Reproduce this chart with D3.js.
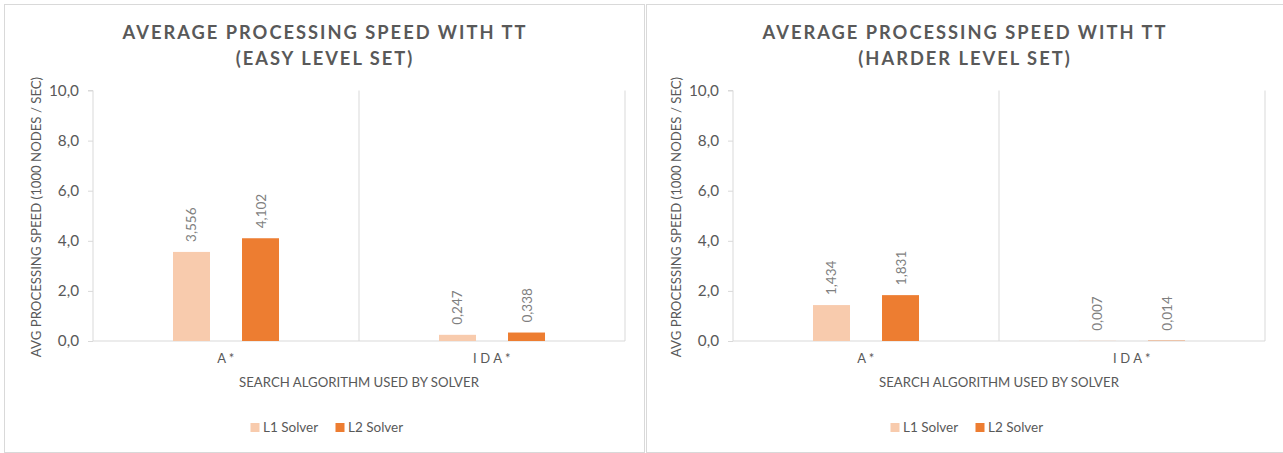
<!DOCTYPE html>
<html><head><meta charset="utf-8">
<script src="https://cdn.jsdelivr.net/npm/d3@7"></script>
<style>body{margin:0;background:#fff} svg{display:block} text{font-family:Lato,"Open Sans",sans-serif}</style>
</head><body><svg id="c" width="1283" height="453"></svg>
<script>
// ---- data ----
const categories = ["A*", "IDA*"];
const seriesNames = ["L1 Solver", "L2 Solver"];
const easyL1 = [3.556, 0.247];
const easyL2 = [4.102, 0.338];
const hardL1 = [1.434, 0.007];
const hardL2 = [1.831, 0.014];
const yTicks = [0, 2, 4, 6, 8, 10];
const titleLine1 = ["AVERAGE PROCESSING SPEED WITH TT", "AVERAGE PROCESSING SPEED WITH TT"];
const titleLine2 = ["(EASY LEVEL SET)", "(HARDER LEVEL SET)"];
const yTitle = "AVG PROCESSING SPEED (1000 NODES / SEC)";
const xTitle = "SEARCH ALGORITHM USED BY SOLVER";

// ---- styles / layout ----
const colors = ["#f8cbad", "#ed7d31"];
const panels = [
  {ox: 0, fx: 4.5, fw: 640, series: [easyL1, easyL2]},
  {ox: 640, fx: 646.5, fw: 642, series: [hardL1, hardL2]}
];
const svg = d3.select("#c");
const fmt1 = v => d3.format(".1f")(v).replace(".", ",");
const fmt3 = v => d3.format(".3f")(v).replace(".", ",");

panels.forEach((p, pi) => {
  const g = svg.append("g").attr("transform", `translate(${p.ox},0)`);
  svg.append("rect").attr("x", p.fx).attr("y", 4.5).attr("width", p.fw).attr("height", 448)
    .attr("fill", "none").attr("stroke", "#d9d9d9").attr("stroke-width", 1);

  const left = 93, right = 625, top = 90.5, bottom = 341;
  const x0 = d3.scaleBand().domain(categories).range([left, right]).padding(0);
  const x1 = d3.scaleBand().domain(seriesNames).range([0, x0.bandwidth()])
    .paddingInner(0.464).paddingOuter(1.159);
  const y = d3.scaleLinear().domain([0, 10]).range([bottom, top]);

  const cx = 325;
  const t = g.append("text").attr("x", cx).attr("text-anchor", "middle")
    .attr("fill", "#595959").attr("font-weight", "bold").attr("font-size", 18.3)
    .attr("letter-spacing", "2px");
  t.append("tspan").attr("x", cx).attr("y", 39).text(titleLine1[pi]);
  t.append("tspan").attr("x", cx).attr("y", 65).text(titleLine2[pi]);

  g.append("g").selectAll("line").data(categories).join("line")
    .attr("x1", d => x0(d) + x0.bandwidth()).attr("x2", d => x0(d) + x0.bandwidth())
    .attr("y1", top).attr("y2", bottom).attr("stroke", "#d9d9d9");

  const ya = g.append("g").attr("transform", `translate(${left},0)`)
    .call(d3.axisLeft(y).tickValues(yTicks).tickFormat(fmt1).tickSize(5).tickPadding(9));
  ya.select(".domain").attr("stroke", "#d9d9d9").attr("d", `M-5,${top}H0V${bottom}`);
  ya.selectAll(".tick line").attr("stroke", "#d9d9d9");
  ya.selectAll(".tick text").attr("fill", "#595959").attr("font-size", 15.3)
    .attr("font-family", "Lato, sans-serif");

  g.append("line").attr("x1", left).attr("x2", right).attr("y1", bottom).attr("y2", bottom)
    .attr("stroke", "#d9d9d9");

  seriesNames.forEach((s, si) => {
    const vals = p.series[si];
    g.append("g").selectAll("rect").data(categories).join("rect")
      .attr("x", (d, i) => x0(d) + x1(s))
      .attr("y", (d, i) => y(vals[i]))
      .attr("width", x1.bandwidth())
      .attr("height", (d, i) => y(0) - y(vals[i]))
      .attr("fill", colors[si]);
    g.append("g").selectAll("text").data(categories).join("text")
      .attr("transform", (d, i) => `translate(${x0(d) + x1(s) + x1.bandwidth() / 2 + 5},${y(vals[i]) - 10}) rotate(-90)`)
      .attr("text-anchor", "start").attr("font-size", 13.5).attr("fill", "#7f7f7f")
      .text((d, i) => fmt3(vals[i]));
  });

  g.append("g").selectAll("text").data(categories).join("text")
    .attr("x", d => x0(d) + x0.bandwidth() / 2 + 1.5).attr("y", 363)
    .attr("text-anchor", "middle").attr("font-size", 13).attr("fill", "#595959")
    .attr("letter-spacing", "3.5px").text(d => d);

  g.append("text").attr("x", 359).attr("y", 387).attr("text-anchor", "middle")
    .attr("font-size", 13.2).attr("fill", "#595959").text(xTitle);
  g.append("text").attr("transform", `translate(41,217) rotate(-90)`).attr("text-anchor", "middle")
    .attr("font-size", 13.2).attr("fill", "#595959").text(yTitle);

  const lx = [250.5, 335.5];
  seriesNames.forEach((s, si) => {
    g.append("rect").attr("x", lx[si]).attr("y", 423).attr("width", 9).attr("height", 9).attr("fill", colors[si]);
    g.append("text").attr("x", lx[si] + 12.5).attr("y", 432).attr("font-size", 13.5)
      .attr("fill", "#595959").text(s);
  });
});
</script></body></html>
